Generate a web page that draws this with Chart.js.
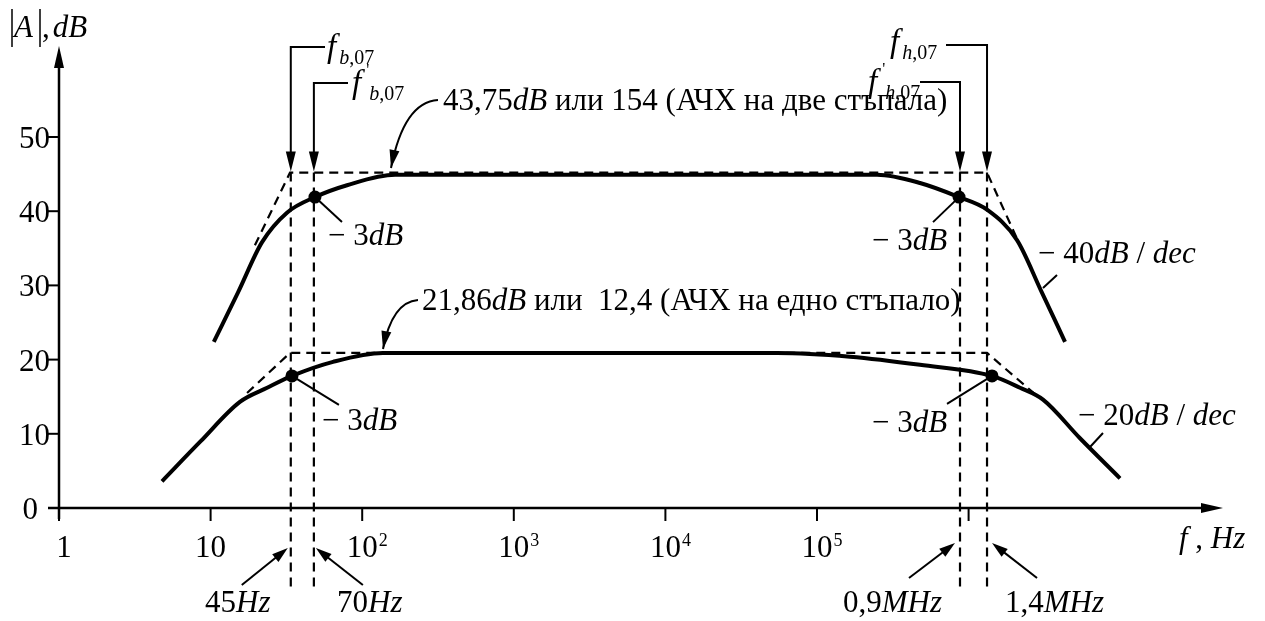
<!DOCTYPE html>
<html>
<head>
<meta charset="utf-8">
<script src="https://cdn.jsdelivr.net/npm/chart.js"></script>
<style>
  html, body { margin:0; padding:0; background:#fff; }
  #wrap { width:1265px; height:621px; }
</style>
</head>
<body>
<div id="wrap"><canvas id="afc"></canvas></div>
<script>
// values: frequency in Hz (log axis), gain in dB
const stage2Freq = [10.5, 15.2, 21.8, 31.9, 48.8, 79.4, 165, 811, 3704, 16920, 77260, 248900, 478000, 864700, 1323000, 2086000, 3003000, 4325000];
const stage2Db   = [22.4, 29.1, 35.8, 39.8, 41.9, 43.5, 44.9, 44.9, 44.9, 44.9, 44.9, 44.9, 43.8, 41.9, 40.2, 36.1, 29.3, 22.4];
const stage1Freq = [4.78, 8.51, 15.6, 23.6, 34.4, 64.2, 137, 811, 3704, 16920, 54450, 165100, 478000, 1427000, 2183000, 3096000, 5430000, 9970000];
const stage1Db   = [3.6, 8.9, 14.3, 16.2, 17.8, 19.7, 20.9, 20.9, 20.9, 20.9, 20.9, 20.4, 19.3, 17.8, 16.2, 14.6, 9.4, 4.0];

const stage2AsymFreq = [19.6, 33.4, 1323000, 2183000];
const stage2AsymDb   = [35.4, 45.2, 45.2, 35.4];
const stage1AsymFreq = [17.4, 33.4, 1323000, 2870000];
const stage1AsymDb   = [15.5, 20.9, 20.9, 15.0];

const cutoffFreq   = [33.8, 48.0, 877600, 1323000];
const cutoffSpanDb = [45.2, -11];
const cutoffNum    = ["45", "70", "0,9", "1,4"];
const cutoffUnit   = ["Hz", "Hz", "MHz", "MHz"];

const halfPowerFreq = [48.8, 864700, 34.4, 1427000];
const halfPowerDb   = [41.9, 41.9, 17.8, 17.8];

const yTicks = [0, 10, 20, 30, 40, 50];
const xTicks = [1, 10, 100, 1000, 10000, 100000, 1000000];
const xTickBase = ["1", "10", "10", "10", "10", "10", ""];
const xTickExp  = ["", "", "2", "3", "4", "5", ""];

const SERIF = '"Liberation Serif", "Times New Roman", serif';

function pts(xs, ys){ return xs.map((x, i) => ({ x, y: ys[i] })); }
function solid(xs, ys){
  return { data:pts(xs, ys), borderColor:"#000", borderWidth:4, pointRadius:0, fill:false, cubicInterpolationMode:"monotone" };
}
function dashed(xs, ys){
  return { data:pts(xs, ys), borderColor:"#000", borderWidth:2.2, borderDash:[9,6], pointRadius:0, fill:false, tension:0 };
}

function rich(ctx, parts, x, y){
  let cx = x;
  parts.forEach(p => {
    const fs = p.fs || 31;
    ctx.font = (p.it ? "italic " : "") + fs + "px " + SERIF;
    cx += p.dx || 0;
    ctx.fillText(p.t, cx, y + (p.dy || 0));
    if(!p.keep) cx += ctx.measureText(p.t).width;
  });
}

function arrow(ctx, x1, y1, x2, y2, len, half){
  len = len || 18; half = half || 5;
  const a = Math.atan2(y2 - y1, x2 - x1);
  ctx.beginPath(); ctx.moveTo(x1, y1);
  ctx.lineTo(x2 - Math.cos(a) * len * 0.8, y2 - Math.sin(a) * len * 0.8); ctx.stroke();
  head(ctx, x2, y2, a, len, half);
}
function head(ctx, x, y, a, len, half){
  ctx.beginPath();
  ctx.moveTo(x, y);
  ctx.lineTo(x - Math.cos(a) * len - Math.sin(a) * half, y - Math.sin(a) * len + Math.cos(a) * half);
  ctx.lineTo(x - Math.cos(a) * len + Math.sin(a) * half, y - Math.sin(a) * len - Math.cos(a) * half);
  ctx.closePath(); ctx.fill();
}

const decorations = {
  id:"decorations",
  afterDraw(chart){
    const ctx = chart.ctx;
    const xs = chart.scales.x, ys = chart.scales.y;
    const X = f => xs.getPixelForValue(f);
    const Y = v => ys.getPixelForValue(v);
    const x0 = X(1), y0 = Y(0);
    ctx.save();
    ctx.strokeStyle = "#000"; ctx.fillStyle = "#000";
    ctx.lineCap = "butt";

    // axes
    ctx.lineWidth = 2.5;
    ctx.beginPath(); ctx.moveTo(x0, y0 + 11); ctx.lineTo(x0, 62); ctx.stroke();
    head(ctx, x0, 46, -Math.PI / 2, 22, 5);
    ctx.beginPath(); ctx.moveTo(x0 - 11, y0); ctx.lineTo(1204, y0); ctx.stroke();
    head(ctx, 1223, y0, 0, 22, 5);

    ctx.lineWidth = 2;
    yTicks.forEach(v => { ctx.beginPath(); ctx.moveTo(x0 - 11, Y(v)); ctx.lineTo(x0, Y(v)); ctx.stroke(); });
    xTicks.forEach(f => { ctx.beginPath(); ctx.moveTo(X(f), y0); ctx.lineTo(X(f), y0 + 13); ctx.stroke(); });

    // tick labels
    ctx.textBaseline = "alphabetic";
    ctx.font = "31px " + SERIF;
    yTicks.forEach(v => {
      ctx.textAlign = "right";
      ctx.fillText(String(v), v === 0 ? x0 - 21 : x0 - 9, Y(v) + 11);
    });
    ctx.textAlign = "left";
    xTicks.forEach((f, i) => {
      if(!xTickBase[i]) return;
      ctx.font = "31px " + SERIF;
      const w = ctx.measureText(xTickBase[i]).width;
      const lx = X(f) - w / 2 + (i === 0 ? 5 : 0);
      ctx.fillText(xTickBase[i], lx, 557);
      if(xTickExp[i]){ ctx.font = "18px " + SERIF; ctx.fillText(xTickExp[i], lx + w + 1, 546); }
    });

    // axis titles
    ctx.lineWidth = 1.5;
    ctx.beginPath(); ctx.moveTo(12, 9); ctx.lineTo(12, 47); ctx.moveTo(40, 9); ctx.lineTo(40, 47); ctx.stroke();
    rich(ctx, [{ t:"A", it:true, fs:31 }], 14, 37);
    rich(ctx, [{ t:",", fs:31 }, { t:"dB", it:true, fs:31, dx:3 }], 42, 37);
    rich(ctx, [{ t:"f", it:true }, { t:" , ", fs:31 }, { t:"Hz", it:true }], 1179, 548);

    // cutoff frequency markers at the top
    ctx.lineWidth = 2;
    const topTip = Y(cutoffSpanDb[0]) - 1;
    const cx = cutoffFreq.map(X);
    const bracket = (xl, yl, x2) => {
      ctx.beginPath(); ctx.moveTo(x2, yl); ctx.lineTo(xl, yl); ctx.lineTo(xl, topTip - 16); ctx.stroke();
      head(ctx, xl, topTip, Math.PI / 2, 20, 5);
    };
    bracket(cx[0], 47, 325);
    bracket(cx[1], 83, 348);
    bracket(cx[3], 45, 946);
    bracket(cx[2], 82, 920);
    const sub = (s) => [{ t:s, it:true, fs:20, dy:7, dx:3 }, { t:",07", fs:20, dy:7 }];
    const prime = { t:"'", fs:17, dy:-18, dx:5, keep:true };
    rich(ctx, [{ t:"f", it:true, fs:33 }, ...sub("b")], 327, 57);
    rich(ctx, [{ t:"f", it:true, fs:33 }, prime, ...sub("b")], 352, 93);
    rich(ctx, [{ t:"f", it:true, fs:33 }, ...sub("h")], 890, 52);
    rich(ctx, [{ t:"f", it:true, fs:33 }, prime, ...sub("h")], 868, 92);

    // cutoff labels at the bottom
    ctx.lineWidth = 2;
    arrow(ctx, cx[0] - 49, 585, cx[0] - 3, 548, 16, 5);
    arrow(ctx, cx[1] + 49, 585, cx[1] + 2, 548, 16, 5);
    arrow(ctx, cx[2] - 51, 578, cx[2] - 5, 543, 16, 5);
    arrow(ctx, cx[3] + 50, 578, cx[3] + 5, 543, 16, 5);
    const lab = (i, x) => rich(ctx, [{ t:cutoffNum[i] }, { t:cutoffUnit[i], it:true }], x, 612);
    lab(0, 205); lab(1, 337); lab(2, 843); lab(3, 1005);

    // -3 dB leaders
    const hp = halfPowerFreq.map((f, i) => [X(f), Y(halfPowerDb[i])]);
    const leader = (p, dx, dy) => { ctx.beginPath(); ctx.moveTo(p[0], p[1]); ctx.lineTo(p[0] + dx, p[1] + dy); ctx.stroke(); };
    leader(hp[0], 27, 25); leader(hp[2], 47, 29);
    leader(hp[1], -26, 25); leader(hp[3], -45, 28);
    const m3 = [{ t:"\u2212 3" }, { t:"dB", it:true }];
    rich(ctx, m3, 328, 245); rich(ctx, m3, 322, 430);
    rich(ctx, m3, 872, 250); rich(ctx, m3, 872, 432);

    // slope labels
    ctx.beginPath(); ctx.moveTo(1043, 288); ctx.lineTo(1057, 275); ctx.moveTo(1090, 447); ctx.lineTo(1103, 433); ctx.stroke();
    rich(ctx, [{ t:"\u2212 40" }, { t:"dB", it:true }, { t:" / " }, { t:"dec", it:true }], 1038, 263);
    rich(ctx, [{ t:"\u2212 20" }, { t:"dB", it:true }, { t:" / " }, { t:"dec", it:true }], 1078, 425);

    // pass-band annotations with curved arrows
    const curved = (sx, sy, qx, qy, ex, ey) => {
      ctx.beginPath(); ctx.moveTo(sx, sy); ctx.quadraticCurveTo(qx, qy, ex, ey); ctx.stroke();
      head(ctx, ex, ey, Math.atan2(ey - qy, ex - qx), 18, 5);
    };
    curved(438, 100, 404, 102, 391, 168);
    curved(418, 300, 392, 302, 383, 349);
    rich(ctx, [{ t:"43,75" }, { t:"dB", it:true }, { t:" или 154 (АЧХ на две стъпала)" }], 443, 110);
    rich(ctx, [{ t:"21,86" }, { t:"dB", it:true }, { t:" или  12,4 (АЧХ на едно стъпало)" }], 422, 310);

    ctx.restore();
  }
};

const datasets = [
  { data:pts(halfPowerFreq, halfPowerDb), showLine:false, pointRadius:6.5, pointBackgroundColor:"#000", pointBorderWidth:0 },
  solid(stage2Freq, stage2Db),
  solid(stage1Freq, stage1Db),
  dashed(stage2AsymFreq, stage2AsymDb),
  dashed(stage1AsymFreq, stage1AsymDb),
  ...cutoffFreq.map(f => dashed([f, f], cutoffSpanDb))
];

new Chart(document.getElementById("afc").getContext("2d"), {
  type:"line",
  data:{ datasets },
  options:{
    responsive:true,
    maintainAspectRatio:false,
    animation:false,
    layout:{ padding:0, autoPadding:false },
    plugins:{ legend:{ display:false }, tooltip:{ enabled:false } },
    scales:{
      x:{ type:"logarithmic", display:false, min:Math.pow(10, -59 / 151.6), max:Math.pow(10, (1265 - 59) / 151.6) },
      y:{ type:"linear", display:false, min:-(621 - 508) / 7.42, max:508 / 7.42 }
    }
  },
  plugins:[decorations]
});
</script>
</body>
</html>
